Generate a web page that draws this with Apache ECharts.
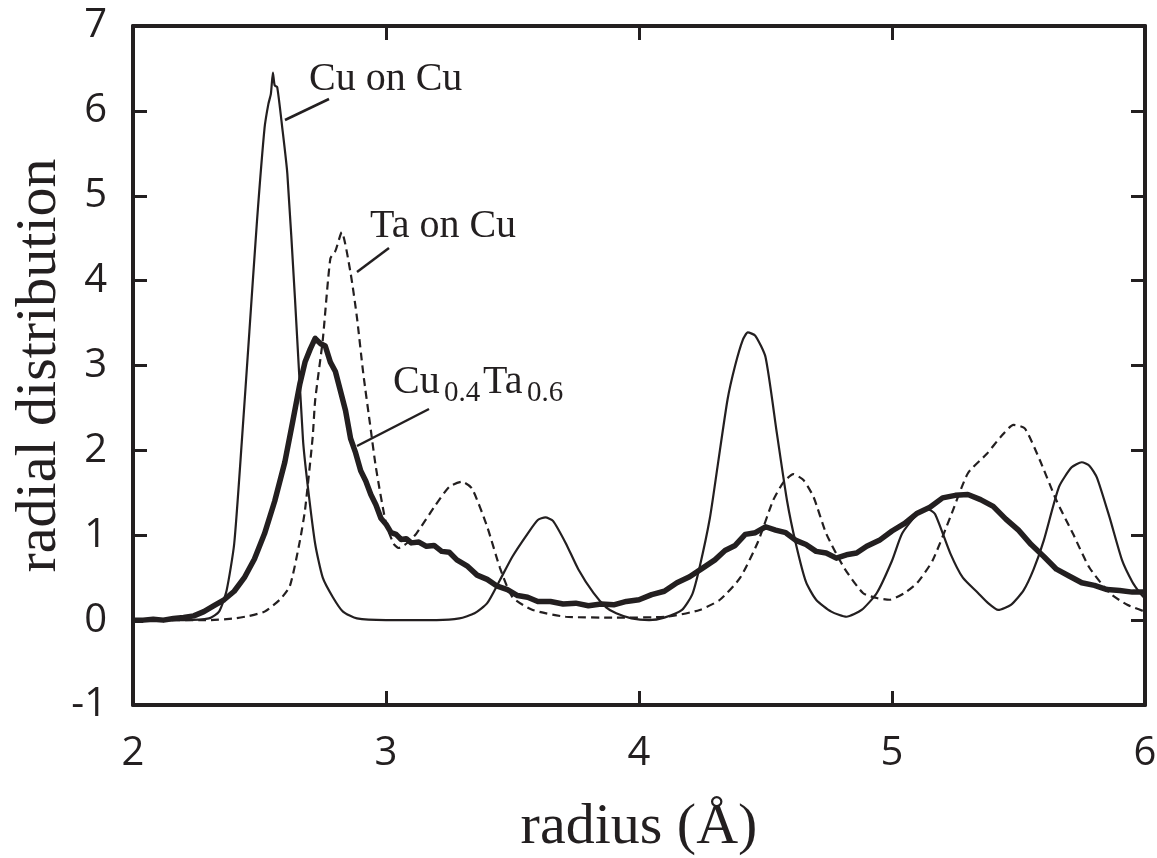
<!DOCTYPE html>
<html>
<head>
<meta charset="utf-8">
<script src="https://cdn.jsdelivr.net/npm/echarts@6/dist/echarts.min.js"></script>
<style>
html,body{margin:0;padding:0;background:#fff;}
#chart{width:1157px;height:858px;}
</style>
</head>
<body>
<div id="chart"></div>
<script>
// ---- data ----
const xTicks = [2, 3, 4, 5, 6];
const yTicks = [-1, 0, 1, 2, 3, 4, 5, 6, 7];

const cuOnCuX = [2.00,2.20,2.30,2.34,2.37,2.40,2.43,2.46,2.49,2.52,2.535,2.545,2.553,2.56,2.57,2.59,2.61,2.64,2.672,2.69,2.72,2.75,2.79,2.83,2.885,3.00,3.20,3.29,3.35,3.40,3.45,3.50,3.56,3.60,3.63,3.66,3.71,3.76,3.82,3.87,3.91,3.97,4.04,4.10,4.17,4.21,4.24,4.28,4.31,4.35,4.38,4.41,4.43,4.46,4.50,4.545,4.585,4.62,4.66,4.70,4.76,4.82,4.88,4.94,5.00,5.04,5.10,5.14,5.17,5.23,5.28,5.34,5.38,5.42,5.47,5.52,5.56,5.60,5.66,5.71,5.75,5.78,5.81,5.86,5.91,5.95,5.98,6.00];
const cuOnCuY = [0,0,0.02,0.1,0.35,0.9,2.1,3.4,4.7,5.8,6.08,6.2,6.45,6.3,6.28,5.8,5.26,3.8,2.12,1.6,0.9,0.5,0.27,0.1,0.02,0,0,0.02,0.08,0.2,0.47,0.75,1.02,1.18,1.21,1.17,0.91,0.6,0.32,0.15,0.08,0.02,0,0.03,0.12,0.3,0.63,1.2,1.8,2.6,3.0,3.3,3.39,3.35,3.1,2.2,1.41,0.9,0.45,0.24,0.1,0.04,0.12,0.32,0.7,1.02,1.25,1.31,1.25,0.79,0.5,0.32,0.2,0.12,0.18,0.35,0.6,0.94,1.57,1.8,1.86,1.82,1.68,1.21,0.7,0.45,0.32,0.25];

const taOnCuX = [2.00,2.30,2.40,2.46,2.52,2.58,2.62,2.66,2.68,2.71,2.72,2.75,2.78,2.80,2.825,2.86,2.885,2.91,2.94,2.96,3.00,3.03,3.05,3.08,3.12,3.19,3.25,3.30,3.34,3.40,3.45,3.50,3.58,3.71,3.91,4.11,4.24,4.32,4.40,4.47,4.53,4.57,4.61,4.65,4.69,4.74,4.81,4.885,4.94,4.99,5.05,5.10,5.16,5.23,5.30,5.375,5.43,5.48,5.525,5.585,5.65,5.715,5.78,5.86,5.93,6.00];
const taOnCuY = [0,0,0.02,0.05,0.1,0.24,0.4,0.94,1.3,2.15,2.59,3.3,4.26,4.35,4.57,4.09,3.57,2.91,2.24,1.8,1.14,0.9,0.85,0.9,1.02,1.33,1.57,1.63,1.55,1.1,0.62,0.27,0.12,0.04,0.03,0.04,0.12,0.24,0.5,0.92,1.41,1.62,1.72,1.65,1.45,1.02,0.62,0.32,0.26,0.24,0.32,0.44,0.7,1.21,1.73,1.96,2.16,2.3,2.26,1.88,1.41,1.02,0.62,0.32,0.18,0.1];

const alloyX = [2.00,2.04,2.08,2.12,2.16,2.20,2.24,2.28,2.32,2.36,2.40,2.44,2.48,2.52,2.56,2.60,2.63,2.66,2.68,2.70,2.72,2.74,2.76,2.78,2.80,2.82,2.84,2.86,2.88,2.90,2.92,2.94,2.96,2.98,3.00,3.02,3.04,3.06,3.08,3.10,3.13,3.16,3.19,3.22,3.25,3.28,3.32,3.36,3.40,3.44,3.48,3.52,3.56,3.60,3.65,3.70,3.75,3.80,3.85,3.90,3.95,4.00,4.05,4.10,4.15,4.20,4.25,4.30,4.34,4.38,4.42,4.46,4.50,4.54,4.58,4.62,4.66,4.70,4.74,4.78,4.82,4.86,4.90,4.95,5.00,5.05,5.10,5.15,5.20,5.25,5.30,5.35,5.40,5.45,5.50,5.55,5.60,5.65,5.70,5.75,5.80,5.85,5.90,5.95,6.00];
const alloyY = [0,0.00,0.01,0.00,0.02,0.03,0.05,0.10,0.17,0.24,0.34,0.50,0.72,1.02,1.40,1.86,2.32,2.79,3.04,3.19,3.32,3.26,3.23,3.04,2.93,2.70,2.47,2.14,1.97,1.76,1.64,1.48,1.36,1.20,1.13,1.03,1.01,0.95,0.96,0.91,0.92,0.87,0.88,0.81,0.80,0.71,0.64,0.53,0.48,0.40,0.36,0.29,0.27,0.22,0.22,0.19,0.20,0.17,0.19,0.18,0.22,0.24,0.30,0.34,0.44,0.51,0.61,0.71,0.82,0.88,1.01,1.03,1.10,1.06,1.03,0.94,0.89,0.81,0.79,0.73,0.77,0.79,0.87,0.94,1.05,1.14,1.26,1.33,1.44,1.47,1.48,1.42,1.34,1.19,1.06,0.89,0.75,0.60,0.52,0.44,0.41,0.36,0.35,0.33,0.33];

const seriesNames = ['Cu on Cu', 'Ta on Cu', 'Cu0.4Ta0.6'];
// ---------------------------------------

const pairs = (xs, ys) => xs.map((x, i) => [x, ys[i]]);
const INK = '#231f20';
const tickFont = { fontFamily: '"Open Sans", sans-serif', fontSize: 40, color: INK };
const serif = '"Liberation Serif", "Times New Roman", serif';

const chart = echarts.init(document.getElementById('chart'), null, { renderer: 'canvas' });

const axisCommon = {
  type: 'value',
  axisLine: { show: true, onZero: false, lineStyle: { color: INK, width: 4 } },
  axisTick: { show: true, inside: true, length: 14, lineStyle: { color: INK, width: 3 } },
  splitLine: { show: false }
};

chart.setOption({
  backgroundColor: '#fff',
  animation: false,
  grid: { left: 133, right: 12, top: 26, bottom: 153, containLabel: false, outerBoundsMode: 'none' },
  xAxis: [
    Object.assign({}, axisCommon, {
      position: 'bottom', min: xTicks[0], max: xTicks[xTicks.length - 1], interval: 1,
      axisLabel: Object.assign({ margin: 29 }, tickFont),
      name: 'radius (Å)', nameLocation: 'middle', nameGap: 94, nameMoveOverlap: false,
      nameTextStyle: { fontFamily: serif, fontSize: 58, color: INK }
    }),
    Object.assign({}, axisCommon, {
      position: 'top', min: xTicks[0], max: xTicks[xTicks.length - 1], interval: 1,
      axisLabel: { show: false }
    })
  ],
  yAxis: [
    Object.assign({}, axisCommon, {
      position: 'left', min: yTicks[0], max: yTicks[yTicks.length - 1], interval: 1,
      axisLabel: Object.assign({ margin: 26 }, tickFont),
      name: 'radial distribution', nameLocation: 'middle', nameGap: 64, nameRotate: 90, nameMoveOverlap: false,
      nameTextStyle: { fontFamily: serif, fontSize: 58, color: INK }
    }),
    Object.assign({}, axisCommon, {
      position: 'right', min: yTicks[0], max: yTicks[yTicks.length - 1], interval: 1,
      axisLabel: { show: false }
    })
  ],
  series: [
    {
      name: seriesNames[0], type: 'line', data: pairs(cuOnCuX, cuOnCuY),
      showSymbol: false, smooth: 0.2, lineStyle: { color: INK, width: 2.2 }, z: 3
    },
    {
      name: seriesNames[1], type: 'line', data: pairs(taOnCuX, taOnCuY),
      showSymbol: false, smooth: 0.2, lineStyle: { color: INK, width: 2.2, type: [8, 5] }, z: 3
    },
    {
      name: seriesNames[2], type: 'line', data: pairs(alloyX, alloyY),
      showSymbol: false, smooth: false, lineStyle: { color: INK, width: 5.5, join: 'round' }, z: 4
    }
  ],
  graphic: [
    { type: 'line', shape: { x1: 285, y1: 120, x2: 329, y2: 99 }, style: { stroke: INK, lineWidth: 2.5 } },
    { type: 'text', x: 309, y: 79, style: { text: 'Cu on Cu', font: '40px ' + serif, fill: INK, verticalAlign: 'middle', align: 'left' } },
    { type: 'line', shape: { x1: 357, y1: 272, x2: 389, y2: 248 }, style: { stroke: INK, lineWidth: 2.5 } },
    { type: 'text', x: 370, y: 226, style: { text: 'Ta on Cu', font: '40px ' + serif, fill: INK, verticalAlign: 'middle', align: 'left' } },
    { type: 'line', shape: { x1: 357, y1: 446, x2: 429, y2: 409 }, style: { stroke: INK, lineWidth: 2.5 } },
    { type: 'text', x: 393, y: 382, style: { text: 'Cu', font: '40px ' + serif, fill: INK, verticalAlign: 'middle', align: 'left' } },
    { type: 'text', x: 444, y: 393, style: { text: '0.4', font: '29px ' + serif, fill: INK, verticalAlign: 'middle', align: 'left' } },
    { type: 'text', x: 483, y: 382, style: { text: 'Ta', font: '40px ' + serif, fill: INK, verticalAlign: 'middle', align: 'left' } },
    { type: 'text', x: 527, y: 393, style: { text: '0.6', font: '29px ' + serif, fill: INK, verticalAlign: 'middle', align: 'left' } }
  ]
});
</script>
</body>
</html>
